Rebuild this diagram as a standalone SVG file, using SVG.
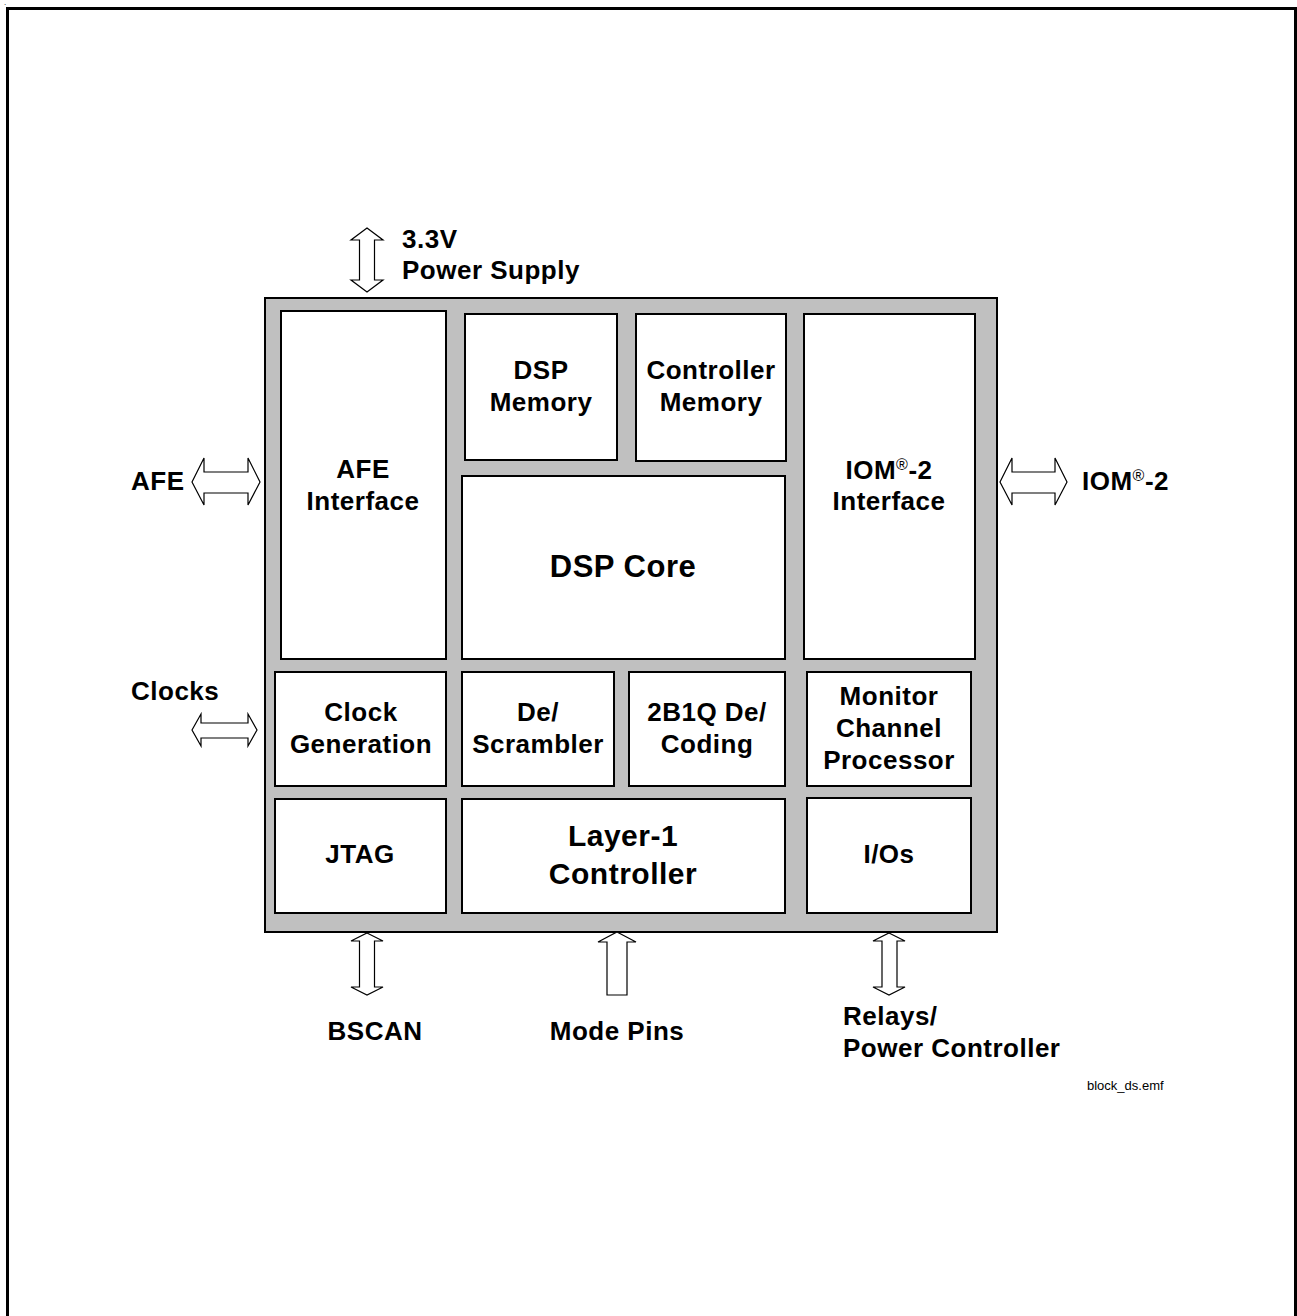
<svg xmlns="http://www.w3.org/2000/svg" width="1297" height="1316" viewBox="0 0 1297 1316">
<style>
text{font-family:"Liberation Sans",Arial,sans-serif;font-weight:bold;fill:#000}
.l{font-size:26px;letter-spacing:0.5px}
.m{text-anchor:middle}
.big{font-size:30px;letter-spacing:0.5px}
.blk{fill:#fff;stroke:#000;stroke-width:2}
.arr{fill:#fff;stroke:#000;stroke-width:1.2}
.sm{font-size:13px;font-weight:normal}
.sup{font-size:16px;font-weight:normal}
</style>
<rect x="0" y="0" width="1297" height="1316" fill="#fff"/>
<rect x="7.5" y="8.5" width="1288" height="1330" fill="none" stroke="#000" stroke-width="3"/>
<text x="4" y="5" style="font-size:8px;font-weight:normal">.</text>

<g id="chip">
<rect x="265" y="298" width="732" height="634" fill="#c0c0c0" stroke="#000" stroke-width="2"/>
</g>

<g id="afe-interface"><rect class="blk" x="281" y="311" width="165" height="348"/>
<text class="l m" x="363" y="478">AFE</text><text class="l m" x="363" y="510">Interface</text></g>
<g id="dsp-memory"><rect class="blk" x="465" y="314" width="152" height="146"/>
<text class="l m" x="541" y="379">DSP</text><text class="l m" x="541" y="411">Memory</text></g>
<g id="controller-memory"><rect class="blk" x="636" y="314" width="150" height="147"/>
<text class="l m" x="711" y="379">Controller</text><text class="l m" x="711" y="411">Memory</text></g>
<g id="iom-interface"><rect class="blk" x="804" y="314" width="171" height="345"/>
<text class="l m" x="889" y="479">IOM<tspan class="sup" dy="-9">®</tspan><tspan dy="9">-2</tspan></text><text class="l m" x="889" y="510">Interface</text></g>
<g id="dsp-core"><rect class="blk" x="462" y="476" width="323" height="183"/>
<text class="big m" x="623" y="577" style="font-size:31px">DSP Core</text></g>
<g id="clock-generation"><rect class="blk" x="275" y="672" width="171" height="114"/>
<text class="l m" x="361" y="721">Clock</text><text class="l m" x="361" y="753">Generation</text></g>
<g id="descrambler"><rect class="blk" x="462" y="672" width="152" height="114"/>
<text class="l m" x="538" y="721">De/</text><text class="l m" x="538" y="753">Scrambler</text></g>
<g id="coding"><rect class="blk" x="629" y="672" width="156" height="114"/>
<text class="l m" x="707" y="721">2B1Q De/</text><text class="l m" x="707" y="753">Coding</text></g>
<g id="monitor"><rect class="blk" x="807" y="672" width="164" height="114"/>
<text class="l m" x="889" y="705">Monitor</text><text class="l m" x="889" y="737">Channel</text><text class="l m" x="889" y="769">Processor</text></g>
<g id="jtag"><rect class="blk" x="275" y="799" width="171" height="114"/>
<text class="l m" x="360" y="863">JTAG</text></g>
<g id="layer1"><rect class="blk" x="462" y="799" width="323" height="114"/>
<text class="big m" x="623" y="846">Layer-1</text><text class="big m" x="623" y="884">Controller</text></g>
<g id="ios"><rect class="blk" x="807" y="798" width="164" height="115"/>
<text class="l m" x="889" y="863">I/Os</text></g>

<g id="connectors">
<polygon class="arr" points="367,228 383,240 374.5,240 374.5,280 383,280 367,292 351,280 359.5,280 359.5,240 351,240"/>
<polygon class="arr" points="192,482 204,458 204,472 248,472 248,458 260,482 248,505 248,493 204,493 204,505"/>
<polygon class="arr" points="1000,482 1012,458 1012,472 1055,472 1055,458 1067,482 1055,505 1055,493 1012,493 1012,505"/>
<polygon class="arr" points="192,730 201,714 201,723 248,723 248,714 257,730 248,746 248,738 201,738 201,746"/>
<polygon class="arr" points="367,933 383,941 374.5,941 374.5,987 383,987 367,995 351,987 359.5,987 359.5,941 351,941"/>
<polygon class="arr" points="617,932 636,942 627,942 627,995 607,995 607,942 598,942"/>
<polygon class="arr" points="889,933 905,941 897,941 897,987 905,987 889,995 873,987 882,987 882,941 873,941"/>
</g>

<g id="labels">
<text class="l" x="402" y="248">3.3V</text>
<text class="l" x="402" y="279">Power Supply</text>
<text class="l" x="131" y="490">AFE</text>
<text class="l" x="1082" y="490">IOM<tspan class="sup" dy="-9">®</tspan><tspan dy="9">-2</tspan></text>
<text class="l" x="131" y="700">Clocks</text>
<text class="l m" x="375" y="1040">BSCAN</text>
<text class="l m" x="617" y="1040">Mode Pins</text>
<text class="l" x="843" y="1025">Relays/</text>
<text class="l" x="843" y="1057">Power Controller</text>
<text class="sm" x="1087" y="1090">block_ds.emf</text>
</g>
</svg>
